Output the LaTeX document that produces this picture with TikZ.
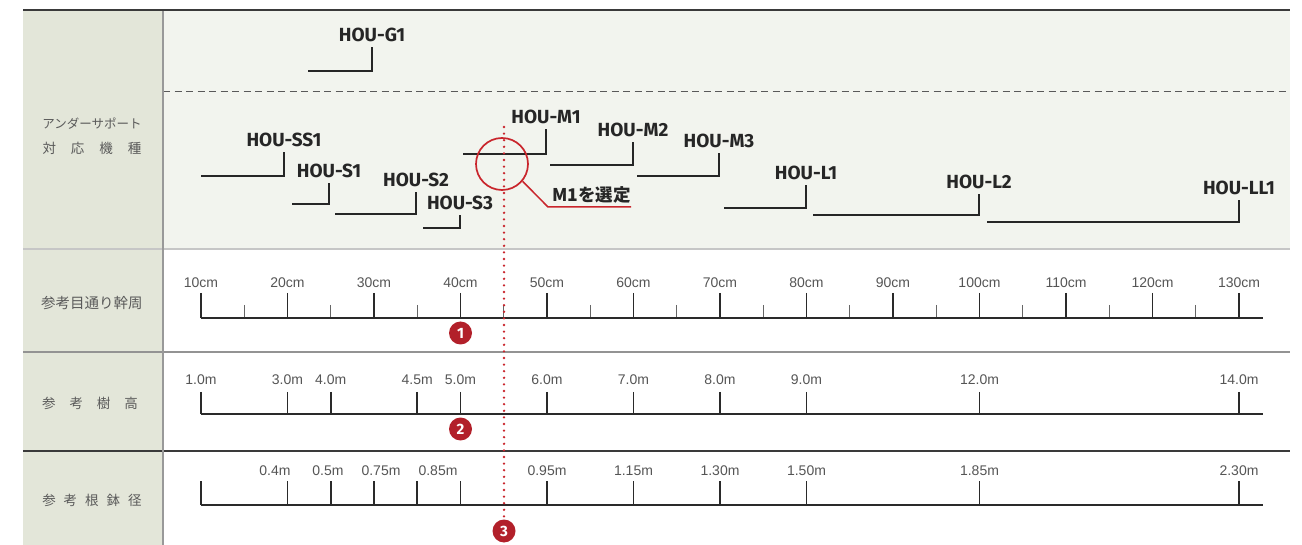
\documentclass[tikz,border=0pt]{standalone}
\usepackage{fontspec}
\setmainfont{Liberation Sans}
\newfontfamily\houfont{Fira Sans}
\newfontfamily\jpfont{Noto Sans CJK JP}
\usetikzlibrary{positioning}

\definecolor{leftbg}{HTML}{E3E6D9}
\definecolor{topbg}{HTML}{F2F4EE}
\definecolor{frameline}{HTML}{3A3A3A}
\definecolor{houtext}{HTML}{262626}
\definecolor{scaletext}{HTML}{555555}
\definecolor{scaleline}{HTML}{2A2A2A}
\definecolor{rowtext}{HTML}{5A5A5A}
\definecolor{selred}{HTML}{C9252C}
\definecolor{numred}{HTML}{B2202A}

\tikzset{
  hou/.style={font=\houfont\bfseries\fontsize{19}{21}\selectfont, text=houtext, inner xsep=1pt, inner ysep=5pt},
  bracket/.style={draw=houtext, line width=1.7pt},
  ticklbl/.style={font=\fontsize{14}{16}\selectfont, text=scaletext, inner sep=1pt},
  rowlbl/.style={font=\jpfont\fontsize{13.5}{16}\selectfont, text=rowtext},
  majortick/.style={draw=scaleline, line width=1.8pt},
  minortick/.style={draw=gray!80!black, line width=1.1pt},
  scalebase/.style={draw=scaleline, line width=2.2pt},
  num/.style={circle, fill=numred, text=white, font=\houfont\bfseries\fontsize{15}{15}\selectfont, minimum size=23pt, inner sep=0pt},
  dotline/.style={draw=selred, line width=2.6pt, line cap=round, dash pattern=on 0pt off 6.6pt},
  pick/.style={font=\jpfont\bfseries\fontsize{17.5}{19}\selectfont, text=houtext, inner sep=1pt}
}

\begin{document}
\begin{tikzpicture}[x=1pt,y=-1pt]
    \useasboundingbox (0,0) rectangle (1302,545);

    % table
    \fill[leftbg] (23,10) rectangle (163,545);
    \fill[topbg] (163,10) rectangle (1290,249);
    \draw[gray!45, line width=1.2pt] (23,249) -- (1290,249);
    \draw[gray!85, line width=1.2pt] (23,352) -- (1290,352);
    \draw[frameline, line width=1.2pt] (23,451) -- (1290,451);
    \draw[gray!70!black, line width=1pt, dash pattern=on 7pt off 4.5pt] (163,92) -- (1290,92);
    \draw[gray!80, line width=1.5pt] (163,10) -- (163,545);
    \draw[frameline, line width=1.2pt] (23,10) -- (1290,10);

    \node[rowlbl, font=\jpfont\fontsize{12.5}{15}\selectfont] at (92,124) (under){アンダーサポート};
    \node[rowlbl] at (92,148) (kishu){対\hspace{15pt}応\hspace{15pt}機\hspace{15pt}種};
    \node[rowlbl, font=\jpfont\fontsize{14.5}{16}\selectfont] at (92,303) (girth){参考目通り幹周};
    \node[rowlbl] at (90,403) (height){参\hspace{14pt}考\hspace{14pt}樹\hspace{14pt}高};
    \node[rowlbl] at (92,500) (root){参\hspace{8pt}考\hspace{8pt}根\hspace{8pt}鉢\hspace{8pt}径};

    % models
    \node[hou] at (372,35) (g1){HOU-G1};
    \coordinate (g1s) at (308,71);
    \draw[bracket] (g1s) -| (g1);
    \node[hou] at (284,140) (ss1){HOU-SS1};
    \coordinate (ss1s) at (201,176);
    \draw[bracket] (ss1s) -| (ss1);
    \node[hou] at (329,171) (s1){HOU-S1};
    \coordinate (s1s) at (292,204);
    \draw[bracket] (s1s) -| (s1);
    \node[hou] at (416,180) (s2){HOU-S2};
    \coordinate (s2s) at (335,214);
    \draw[bracket] (s2s) -| (s2);
    \node[hou] at (460,203) (s3){HOU-S3};
    \coordinate (s3s) at (423,228);
    \draw[bracket] (s3s) -| (s3);
    \node[hou] at (546,117) (m1){HOU-M1};
    \coordinate (m1s) at (463,154);
    \draw[bracket] (m1s) -| (m1);
    \node[hou] at (633,130) (m2){HOU-M2};
    \coordinate (m2s) at (550,165);
    \draw[bracket] (m2s) -| (m2);
    \node[hou] at (719,141) (m3){HOU-M3};
    \coordinate (m3s) at (637,176);
    \draw[bracket] (m3s) -| (m3);
    \node[hou] at (806,173) (l1){HOU-L1};
    \coordinate (l1s) at (724,208);
    \draw[bracket] (l1s) -| (l1);
    \node[hou] at (979,182) (l2){HOU-L2};
    \coordinate (l2s) at (813,215);
    \draw[bracket] (l2s) -| (l2);
    \node[hou] at (1239,188) (ll1){HOU-LL1};
    \coordinate (ll1s) at (987,222);
    \draw[bracket] (ll1s) -| (ll1);

    % girth scale
    \node[ticklbl] at (201,283) (c10){10cm};
    \node[ticklbl] at (287.5,283) (c20){20cm};
    \node[ticklbl] at (374,283) (c30){30cm};
    \node[ticklbl] at (460.5,283) (c40){40cm};
    \node[ticklbl] at (547,283) (c50){50cm};
    \node[ticklbl] at (633.5,283) (c60){60cm};
    \node[ticklbl] at (720,283) (c70){70cm};
    \node[ticklbl] at (806.5,283) (c80){80cm};
    \node[ticklbl] at (893,283) (c90){90cm};
    \node[ticklbl] at (979.5,283) (c100){100cm};
    \node[ticklbl] at (1066,283) (c110){110cm};
    \node[ticklbl] at (1152.5,283) (c120){120cm};
    \node[ticklbl] at (1239,283) (c130){130cm};
    \draw[minortick] (244.25,305) -- (244.25,318) (330.75,305) -- (330.75,318) (417.25,305) -- (417.25,318)
        (503.75,305) -- (503.75,318) (590.25,305) -- (590.25,318) (676.75,305) -- (676.75,318)
        (763.25,305) -- (763.25,318) (849.75,305) -- (849.75,318) (936.25,305) -- (936.25,318)
        (1022.75,305) -- (1022.75,318) (1109.25,305) -- (1109.25,318) (1195.75,305) -- (1195.75,318);
    \draw[majortick] (201,293) -- (201,318) (287.5,293) -- (287.5,318) (374,293) -- (374,318)
        (460.5,293) -- (460.5,318) (547,293) -- (547,318) (633.5,293) -- (633.5,318)
        (720,293) -- (720,318) (806.5,293) -- (806.5,318) (893,293) -- (893,318)
        (979.5,293) -- (979.5,318) (1066,293) -- (1066,318) (1152.5,293) -- (1152.5,318) (1239,293) -- (1239,318);
    \draw[scalebase] (201,318) -- (1263,318);

    % height scale
    \node[ticklbl] at (201,380) (h10){1.0m};
    \node[ticklbl] at (287.5,380) (h30){3.0m};
    \node[ticklbl] at (330.75,380) (h40){4.0m};
    \node[ticklbl] at (417.25,380) (h45){4.5m};
    \node[ticklbl] at (460.5,380) (h50){5.0m};
    \node[ticklbl] at (547,380) (h60){6.0m};
    \node[ticklbl] at (633.5,380) (h70){7.0m};
    \node[ticklbl] at (720,380) (h80){8.0m};
    \node[ticklbl] at (806.5,380) (h90){9.0m};
    \node[ticklbl] at (979.5,380) (h120){12.0m};
    \node[ticklbl] at (1239,380) (h140){14.0m};
    \draw[majortick] (201,392) -- (201,414) (287.5,392) -- (287.5,414) (330.75,392) -- (330.75,414)
        (417.25,392) -- (417.25,414) (460.5,392) -- (460.5,414) (547,392) -- (547,414)
        (633.5,392) -- (633.5,414) (720,392) -- (720,414) (806.5,392) -- (806.5,414)
        (979.5,392) -- (979.5,414) (1239,392) -- (1239,414);
    \draw[scalebase] (201,414) -- (1263,414);

    % root ball scale
    \node[ticklbl] at (275,471) (r04){0.4m};
    \node[ticklbl] at (328,471) (r05){0.5m};
    \node[ticklbl] at (381,471) (r075){0.75m};
    \node[ticklbl] at (438,471) (r085){0.85m};
    \node[ticklbl] at (547,471) (r095){0.95m};
    \node[ticklbl] at (633.5,471) (r115){1.15m};
    \node[ticklbl] at (720,471) (r130){1.30m};
    \node[ticklbl] at (806.5,471) (r150){1.50m};
    \node[ticklbl] at (979.5,471) (r185){1.85m};
    \node[ticklbl] at (1239,471) (r230){2.30m};
    \draw[majortick] (201,481) -- (201,505) (287.5,481) -- (287.5,505) (330.75,481) -- (330.75,505)
        (374,481) -- (374,505) (417.25,481) -- (417.25,505) (460.5,481) -- (460.5,505)
        (547,481) -- (547,505) (633.5,481) -- (633.5,505) (720,481) -- (720,505)
        (806.5,481) -- (806.5,505) (979.5,481) -- (979.5,505) (1239,481) -- (1239,505);
    \draw[scalebase] (201,505) -- (1263,505);

    % selection
    \node[num] at (460.5,333) (n1){1};
    \node[num] at (460.5,429) (n2){2};
    \node[num] at (504,531) (n3){3};
    \coordinate (dtop) at (504,127);
    \draw[dotline] (dtop) -- (n3);
    \node[circle, draw=selred, line width=1.7pt, minimum size=52pt, inner sep=0pt] at (502,164) (sel){};
    \coordinate (selknee) at (548,207);
    \coordinate (selend) at (631,207);
    \draw[selred, line width=1.5pt] (sel.-40) -- (selknee) -- (selend);
    \node[pick, above right=3pt and 3pt of selknee] (pickm1){M1を選定};
\end{tikzpicture}
\end{document}
